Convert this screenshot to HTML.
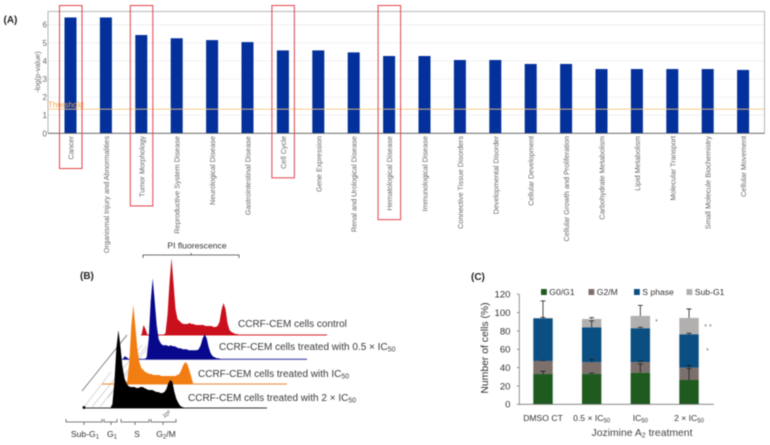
<!DOCTYPE html>
<html lang="en">
<head>
<meta charset="utf-8">
<title>Disease categories and cell cycle analysis</title>
<style>
  html, body { margin: 0; padding: 0; background: #fff; }
  #figure { display: block; filter: blur(0.45px); font-family: "Liberation Sans", sans-serif; }
</style>
</head>
<body>
<svg id="figure" xmlns="http://www.w3.org/2000/svg" width="770" height="445" viewBox="0 0 770 445">
  <g id="panelA"></g>
  <g id="panelB">
    <g id="hatch" stroke="#d8d8d8" stroke-width="1">
      <line x1="84" y1="407" x2="111" y2="372"/>
      <line x1="92" y1="407" x2="142" y2="345"/>
      <line x1="100" y1="407" x2="147" y2="345"/>
      <line x1="108" y1="398" x2="150" y2="345"/>
    </g>
    <line x1="82" y1="391" x2="127" y2="335" stroke="#8a8a8a" stroke-width="1"/>
    <g id="histograms"></g>
    <path d="M143 258V255H239V258M191 255V253" fill="none" stroke="#444" stroke-width="0.8"/>
    <text x="197" y="248.5" text-anchor="middle" font-size="8.6" fill="#333">PI fluorescence</text>
    <circle cx="84" cy="407.5" r="1.5" fill="#111"/>
    <g fill="none" stroke="#555" stroke-width="0.8">
      <path d="M66 419V422H102V419M84 422V425"/>
      <path d="M104 419V422H117V419M111 422V425"/>
      <path d="M121 419V422H149V419M135 422V425"/>
      <path d="M151 419V422H176V419M163 422V425"/>
    </g>
    <g font-size="8.6" fill="#333" text-anchor="middle">
      <text x="85" y="437">Sub-G<tspan font-size="6" dy="1.5">1</tspan></text>
      <text x="112" y="437">G<tspan font-size="6" dy="1.5">1</tspan></text>
      <text x="137" y="437">S</text>
      <text x="166" y="437">G<tspan font-size="6" dy="1.5">2</tspan><tspan dy="-1.5">/M</tspan></text>
    </g>
    <text transform="translate(164 418) rotate(-30)" font-size="5.5" fill="#444">10<tspan font-size="4" dy="-2">6</tspan></text>
    <g font-size="10" fill="#3a3a3a">
      <text x="238" y="327">CCRF-CEM cells control</text>
      <text x="219" y="350">CCRF-CEM cells treated with 0.5 × IC<tspan font-size="7" dy="1.5">50</tspan></text>
      <text x="198" y="377">CCRF-CEM cells treated with IC<tspan font-size="7" dy="1.5">50</tspan></text>
      <text x="188" y="401">CCRF-CEM cells treated with 2 × IC<tspan font-size="7" dy="1.5">50</tspan></text>
    </g>
  </g>
  <g id="panelC"></g>
  <text x="3.5" y="23" font-size="10" font-weight="bold" fill="#222">(A)</text>
  <text x="80" y="279" font-size="10" font-weight="bold" fill="#222">(B)</text>
  <text x="471" y="280" font-size="10" font-weight="bold" fill="#222">(C)</text>
</svg>
<script>
/* ---------- Panel A data ---------- */
const categoriesA = ["Cancer","Organismal Injury and Abnormalities","Tumor Morphology","Reproductive System Disease","Neurological Disease","Gastrointestinal Disease","Cell Cycle","Gene Expression","Renal and Urological Disease","Hematological Disease","Immunological Disease","Connective Tissue Disorders","Developmental Disorder","Cellular Development","Cellular Growth and Proliferation","Carbohydrate Metabolism","Lipid Metabolism","Molecular Transport","Small Molecule Biochemistry","Cellular Movement"];
const valuesA = [6.4,6.4,5.43,5.25,5.15,5.04,4.58,4.58,4.47,4.27,4.27,4.05,4.05,3.83,3.83,3.55,3.55,3.55,3.55,3.5];
const ticksA = [0,1,2,3,4,5,6];
const thresholdA = 1.33;
const highlightedA = ["Cancer","Tumor Morphology","Cell Cycle","Hematological Disease"];

/* ---------- Panel B data (counts per fluorescence channel) ---------- */
const histBlack = [0,4,26,60,78,62,42,30,25,22,21,21,21,20,20,21,21,20,19,18,18,18,17,16,16,15,15,16,19,25,28,26,16,9,5,2,1,0];
const histOrange = [0,3,22,58,79,58,36,22,16,14,12,11,10,10,9,9,9,9,8,8,8,8,8,8,8,8,9,10,14,19,22,20,14,7,0];
const histBlue = [0,2,20,58,81,58,34,20,16,14,14,14,13,14,13,13,12,11,11,10,10,10,9,9,9,9,9,10,14,21,25,21,12,6,3,2,1,1,0];
const histRed = [0,2,20,52,77,52,26,16,14,12,11,11,11,12,11,11,10,10,10,10,10,9,9,9,9,8,8,9,13,25,32,26,12,5,3,2,1,1,0];
const subG1Red = [0,10,6,0];
const subG1Blue = [0,3,2,0];

/* ---------- Panel C data ---------- */
const treatments = ["DMSO CT","0.5 × IC","IC","2 × IC"];
const treatmentSubs = ["","50","50","50"];
const seriesNames = ["G0/G1","G2/M","S phase","Sub-G1"];
const g0g1 = [33,33,34.5,26.5];
const g2m = [14.3,13,11.5,13.5];
const sPhase = [46.5,38,37,36.4];
const subG1 = [0.4,9,13.4,17.8];
const errG0g1 = [3,1,9.5,12.5];
const errG2m = [0.5,3,1,2.5];
const errSPhase = [1,7,1,1];
const errSubG1 = [18.6,1.5,11.5,9.8];
const ticksC = [0,20,40,60,80,100,120];

const NS = "http://www.w3.org/2000/svg";
function el(parent, tag, attrs, text) {
  const node = document.createElementNS(NS, tag);
  for (const k in attrs) node.setAttribute(k, attrs[k]);
  if (text !== undefined) node.textContent = text;
  parent.appendChild(node);
  return node;
}

/* ---------- Panel A ---------- */
(function () {
  const g = document.getElementById("panelA");
  const left = 48, right = 764.5, top = 11.5, base = 133.3;
  const yA = v => base - v * 18.1;
  const xA = i => 70.5 + i * 35.4;

  ticksA.forEach(t => {
    if (t > 0) {
      const grid = el(g, "line", {x1: left, x2: right, y1: yA(t), y2: yA(t), stroke: "#eeeeee", "stroke-width": 0.8});
      
      
    }
    const lab = el(g, "text", {x: 47, y: yA(t) + 3, "text-anchor": "end", "font-size": 8, fill: "#666"}, String(t));
    
    
  });

  const frame = el(g, "path", {d: `M${left} ${base}V${top}H${right}V${base}`, fill: "none", stroke: "#a0a0a0", "stroke-width": 0.8});
  
  

  valuesA.forEach((v, i) => {
    const bar = el(g, "rect", {x: xA(i) - 6, y: yA(v), width: 12, height: base - yA(v), fill: "#03309a"});
    
    
  });

  const axis = el(g, "line", {x1: left, x2: right, y1: base, y2: base, stroke: "#555", "stroke-width": 0.9});
  
  

  const thr = el(g, "line", {x1: left, x2: right, y1: yA(thresholdA), y2: yA(thresholdA), stroke: "#f6c67c", "stroke-width": 0.9});
  
  
  const thrLab = el(g, "text", {x: 48, y: yA(thresholdA) - 1.5, "font-size": 8, fill: "#f2a445"}, "Threshold");
  
  

  const title = el(g, "text", {transform: "translate(40 72) rotate(-90)", "text-anchor": "middle", "font-size": 7.4, fill: "#666"}, "-log(p-value)");
  
  

  categoriesA.forEach((c, i) => {
    const lab = el(g, "text", {transform: `translate(${xA(i) + 3} 136) rotate(-90)`, "text-anchor": "end", "font-size": 7.3, fill: "#666"}, c);
    
    
    if (highlightedA.includes(c)) {
      const h = lab.getComputedTextLength() + 9;
      const box = el(g, "rect", {x: xA(i) - 11, y: 5.5, width: 22.5, height: 136 + h - 5.5, fill: "none", stroke: "#e2424a", "stroke-width": 1});
      
      
    }
  });
})();

/* ---------- Panel B ---------- */
(function () {
  const g = document.getElementById("histograms");
  const defs = [
    {vals: histRed, bump: subG1Red, x0: 163.5, base: 335, fill: "#c9101c", line: "#d8202a", end: 327, start: 141, name: "histogram-control", w: 1},
    {vals: histBlue, bump: subG1Blue, x0: 144.7, base: 359.3, fill: "#08088c", line: "#2a2aa0", end: 307, start: 122, name: "histogram-half-ic50", w: 1},
    {vals: histOrange, bump: null, x0: 125.3, base: 384, fill: "#f27d12", line: "#f29a50", end: 287, start: 102, name: "histogram-ic50", w: 1.3},
    {vals: histBlack, bump: null, x0: 110.4, base: 408, fill: "#000000", line: "#333333", end: 267, start: 84, name: "histogram-double-ic50", w: 1}
  ];
  const xH = (x0, ch) => x0 + ch * 2;
  const yH = (base, count) => base - count;
  function area(vals, x0, base, firstCh) {
    const pts = vals.map((v, i) => `${xH(x0, firstCh + i).toFixed(1)},${yH(base, v).toFixed(1)}`);
    return pts.join(" ");
  }
  defs.forEach(d => {
    const line = el(g, "line", {x1: d.start, x2: d.end, y1: d.base, y2: d.base, stroke: d.line, "stroke-width": d.w});
    
    
    if (d.bump) {
      const b = el(g, "polygon", {points: area(d.bump, d.x0, d.base, -11), fill: d.fill});
      
      
    }
    const p = el(g, "polygon", {points: area(d.vals, d.x0, d.base, 0), fill: d.fill});
    
    
  });
})();

/* ---------- Panel C ---------- */
(function () {
  const g = document.getElementById("panelC");
  const axisX = 519.3, axisEnd = 714, base = 404.3;
  const yC = v => base - v * 0.917;
  const xC = i => 543 + i * 48.67;
  const colors = ["#1f5a1f", "#7c706d", "#0b4f82", "#b2afaf"];
  const stacks = [g0g1, g2m, sPhase, subG1];
  const errs = [errG0g1, errG2m, errSPhase, errSubG1];

  treatments.forEach((t, i) => {
    let cum = 0;
    stacks.forEach((s, k) => {
      const r = el(g, "rect", {x: xC(i) - 9.7, y: yC(cum + s[i]), width: 19.4, height: yC(cum) - yC(cum + s[i]), fill: colors[k]});
      
      
      cum += s[i];
    });
  });
  treatments.forEach((t, i) => {
    let cum = 0;
    stacks.forEach((s, k) => {
      cum += s[i];
      const top = yC(cum + errs[k][i]);
      const e = el(g, "path", {d: `M${xC(i)} ${yC(cum)}V${top}M${xC(i) - 2.5} ${top}H${xC(i) + 2.5}`, fill: "none", stroke: "#1c1c1c", "stroke-width": 0.8});
      
      
    });
    const lab = el(g, "text", {x: xC(i), y: 421, "text-anchor": "middle", "font-size": 8.6, fill: "#333"}, t);
    
    
    if (treatmentSubs[i]) {
      const sub = el(lab, "tspan", {"font-size": 6, dy: 1.5}, treatmentSubs[i]);
      
      
    }
  });

  const axes = el(g, "path", {d: `M${axisX} ${yC(120)}V${base}H${axisEnd}`, fill: "none", stroke: "#777", "stroke-width": 0.8});
  
  

  ticksC.forEach(t => {
    const tick = el(g, "line", {x1: axisX - 2.5, x2: axisX, y1: yC(t), y2: yC(t), stroke: "#777", "stroke-width": 0.8});
    
    
    const lab = el(g, "text", {x: 510.5, y: yC(t) + 3.4, "text-anchor": "end", "font-size": 9.6, fill: "#333"}, String(t));
    
    
  });

  const legendSwatchX = [541, 588.5, 634, 686.5];
  seriesNames.forEach((n, k) => {
    const sw = el(g, "rect", {x: legendSwatchX[k], y: 289, width: 5.8, height: 6, fill: colors[k]});
    
    
    const lab = el(g, "text", {x: legendSwatchX[k] + 8.3, y: 295, "font-size": 8.6, fill: "#333"}, n);
    
    
  });

  const yTitle = el(g, "text", {transform: "translate(488 348) rotate(-90)", "text-anchor": "middle", "font-size": 10.4, fill: "#333"}, "Number of cells (%)");
  
  

  const xTitle = el(g, "text", {x: 642, y: 436, "text-anchor": "middle", "font-size": 10.4, fill: "#444"}, "Jozimine A");
  
  
  const xSub = el(xTitle, "tspan", {"font-size": 7, dy: 1.5}, "2");
  
  
  const xRest = el(xTitle, "tspan", {dy: -1.5}, " treatment");
  
  

  const stars = [[656.5, 324, "*"], [708, 329, "* *"], [707.5, 353, "*"]];
  stars.forEach(s => {
    const st = el(g, "text", {x: s[0], y: s[1], "text-anchor": "middle", "font-size": 7, fill: "#666"}, s[2]);
    
    
  });
})();
</script>
</body>
</html>
